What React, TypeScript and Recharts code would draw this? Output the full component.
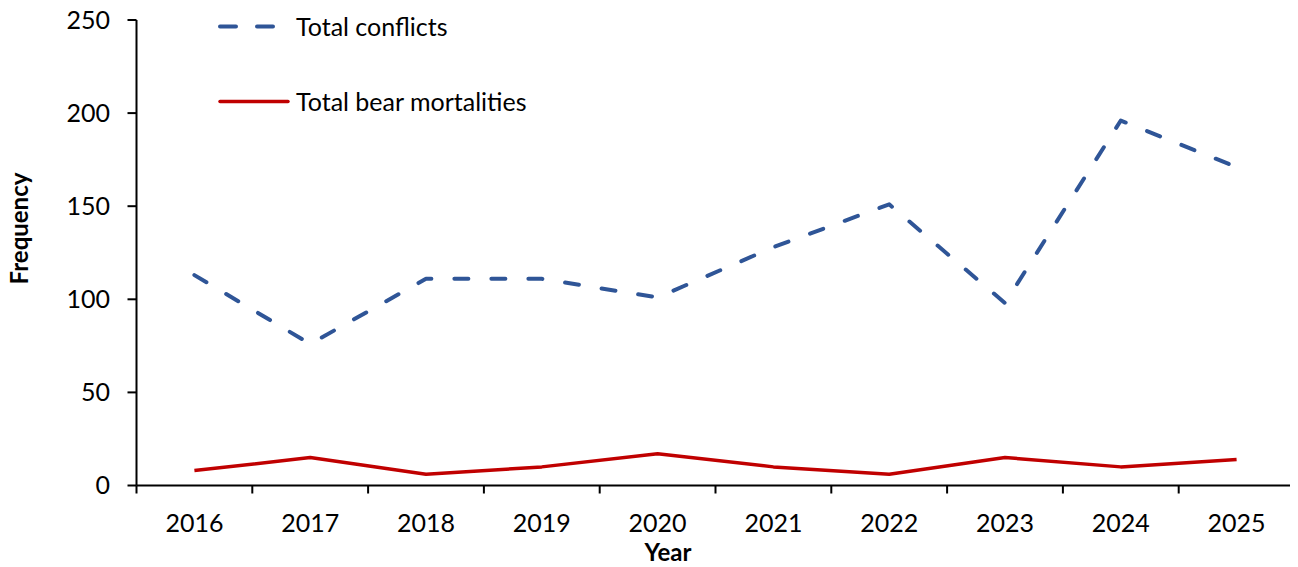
import { LineChart, Line, XAxis, YAxis, Label } from 'recharts';

// values
const years = [2016, 2017, 2018, 2019, 2020, 2021, 2022, 2023, 2024, 2025];
const totalConflicts = [113, 76, 111, 111, 101, 128, 151, 98, 196, 171];
const bearMortalities = [8, 15, 6, 10, 17, 10, 6, 15, 10, 14];
const yTicks = [0, 50, 100, 150, 200, 250];
// tick marks sit between the years, like Excel's "between tick marks"
const yearEdges = [2015.5, 2016.5, 2017.5, 2018.5, 2019.5, 2020.5, 2021.5, 2022.5, 2023.5, 2024.5, 2025.5];

const data = years.map((year, i) => ({
    year,
    conflicts: totalConflicts[i],
    mortalities: bearMortalities[i],
}));

const CHART_W = 1298;
const CHART_H = 567;
const MARGIN = { top: 20, right: 3.5, left: 0, bottom: 21.5 };
const Y_AXIS_W = 136.5;
const X_AXIS_H = 60;
const PLOT_W = CHART_W - MARGIN.left - MARGIN.right - Y_AXIS_W;

const BLUE = '#2F5597';
const RED = '#C00000';
const FONT = 'Lato, "Open Sans", sans-serif';
const FS = 25;

function YearTick(props: any) {
    const { x, y, payload } = props;
    const label = payload.value + 0.5;
    if (label > years[years.length - 1]) return <g />;
    const half = PLOT_W / years.length / 2;
    return (
        <text x={x + half} y={y} dy="0.71em" textAnchor="middle" fontSize={FS} fontFamily={FONT} fill="#000">
            {label}
        </text>
    );
}

const YTitle = () => (
    <text x={18} y={228.5} transform="rotate(-90 18 228.5)" textAnchor="middle" dominantBaseline="central"
        fontSize={24} fontWeight="bold" fontFamily={FONT} fill="#000">
        Frequency
    </text>
);

const XTitle = () => (
    <text x={668} y={561} textAnchor="middle" fontSize={24} fontWeight="bold" fontFamily={FONT} fill="#000">
        Year
    </text>
);

function ChartLegend() {
    return (
        <div style={{ position: 'absolute', left: 218, top: 0, width: 360, height: 130, fontFamily: FONT, fontSize: FS, color: '#000' }}>
            <div style={{ position: 'absolute', left: 0, top: 10.5, height: 31, display: 'flex', alignItems: 'center', whiteSpace: 'nowrap' }}>
                <svg width={78} height={31}>
                    <line x1={2} y1={15.5} x2={18} y2={15.5} stroke={BLUE} strokeWidth={4} strokeLinecap="round" />
                    <line x1={39} y1={15.5} x2={55} y2={15.5} stroke={BLUE} strokeWidth={4} strokeLinecap="round" />
                </svg>
                <span>Total conflicts</span>
            </div>
            <div style={{ position: 'absolute', left: 0, top: 85.5, height: 31, display: 'flex', alignItems: 'center', whiteSpace: 'nowrap' }}>
                <svg width={78} height={31}>
                    <line x1={2} y1={15.5} x2={70} y2={15.5} stroke={RED} strokeWidth={3.5} strokeLinecap="round" />
                </svg>
                <span>Total bear mortalities</span>
            </div>
        </div>
    );
}

export default function App() {
    return (
        <div style={{ position: 'relative', margin: '-8px 0 0 -8px', width: CHART_W, height: CHART_H, fontFamily: FONT }}>
            <LineChart width={CHART_W} height={CHART_H} data={data} margin={MARGIN}>
                <XAxis
                    dataKey="year"
                    type="number"
                    domain={[2015.5, 2025.5]}
                    ticks={yearEdges}
                    interval={0}
                    height={X_AXIS_H}
                    stroke="#000"
                    strokeWidth={2}
                    tickSize={8}
                    tickMargin={20.5}
                    tick={YearTick}
                >
                    <Label content={XTitle} />
                </XAxis>
                <YAxis
                    domain={[0, 250]}
                    ticks={yTicks}
                    interval={0}
                    width={Y_AXIS_W}
                    stroke="#000"
                    strokeWidth={2}
                    tickSize={9}
                    tickMargin={17.5}
                    tick={{ fill: '#000', fontSize: FS, fontFamily: FONT }}
                >
                    <Label content={YTitle} />
                </YAxis>
                <Line
                    type="linear"
                    dataKey="conflicts"
                    stroke={BLUE}
                    strokeWidth={4}
                    strokeDasharray="14 23"
                    strokeLinecap="round"
                    strokeLinejoin="round"
                    dot={false}
                    activeDot={false}
                    isAnimationActive={false}
                />
                <Line
                    type="linear"
                    dataKey="mortalities"
                    stroke={RED}
                    strokeWidth={3.5}
                    strokeLinejoin="round"
                    dot={false}
                    activeDot={false}
                    isAnimationActive={false}
                />
            </LineChart>
            <ChartLegend />
        </div>
    );
}
